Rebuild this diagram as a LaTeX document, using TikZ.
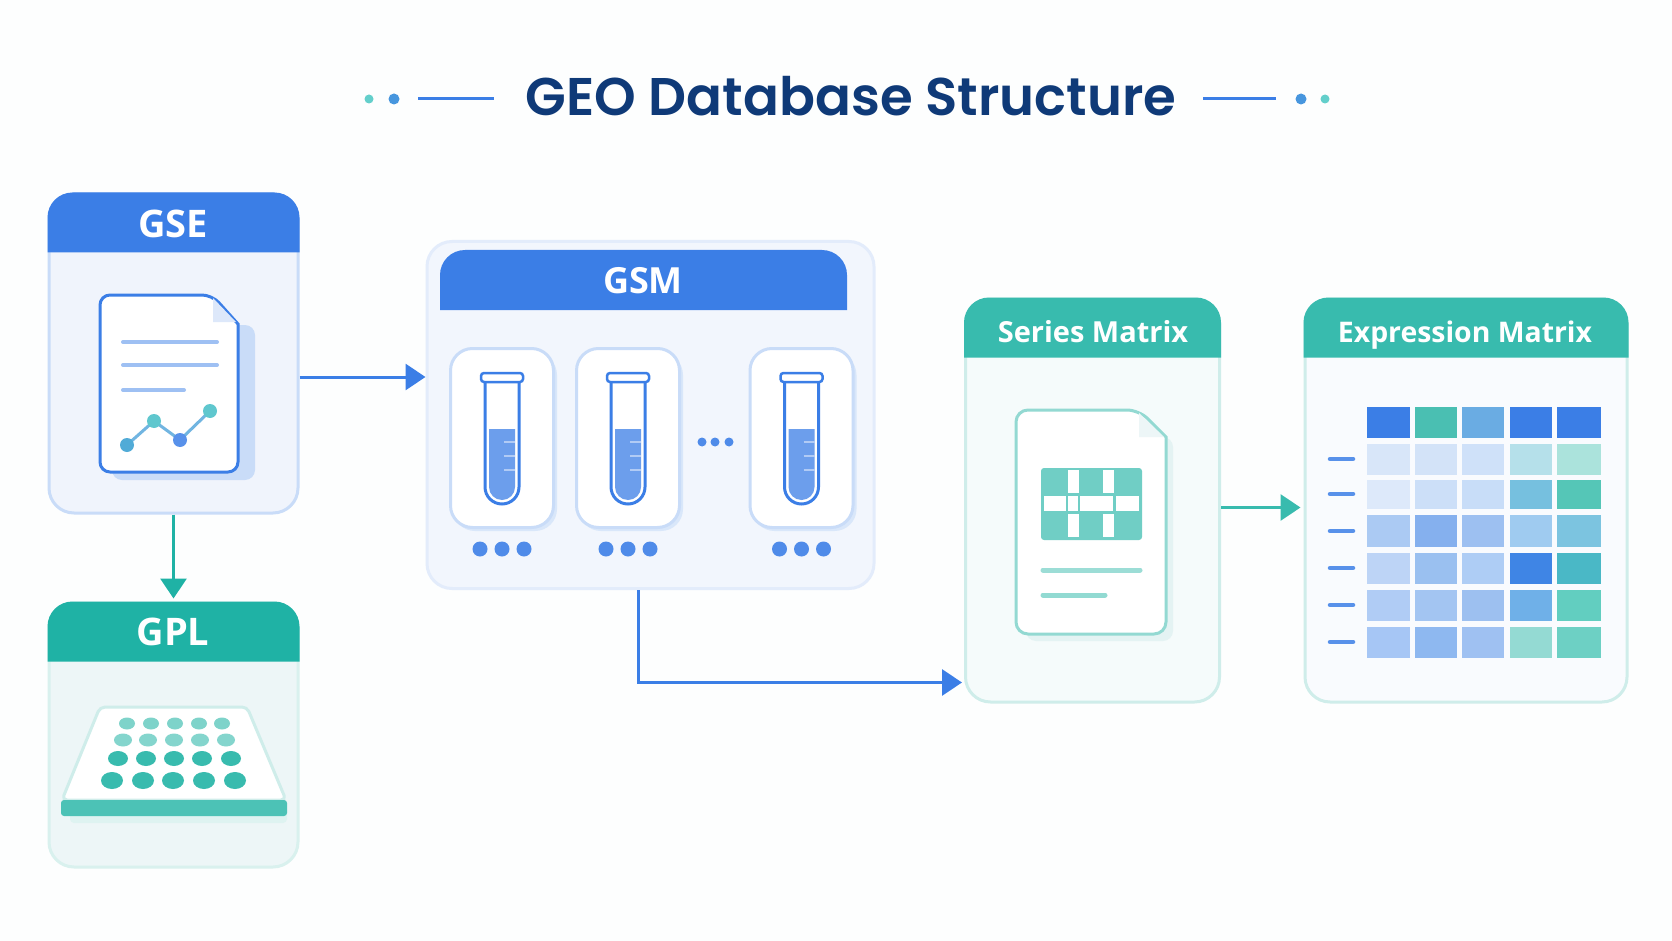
\documentclass[tikz,border=0pt]{standalone}
\usepackage{fontspec}
\setmainfont{Open Sans}
\newfontfamily\titlefont[BoldFont={Poppins SemiBold}]{Poppins}
\usetikzlibrary{arrows.meta,positioning}
\definecolor{pagebg}{HTML}{FDFEFE}
\definecolor{navy}{HTML}{0F3A78}
\definecolor{bluehead}{HTML}{3B7EE6}
\definecolor{tealhead}{HTML}{1FB2A5}
\definecolor{tealsoft}{HTML}{38BBAE}
\definecolor{tealdot}{HTML}{63CFCB}
\definecolor{palered}{HTML}{C9DCF8}
\definecolor{paleteal}{HTML}{CFEDEA}
\definecolor{gsefill}{HTML}{F0F4FC}
\definecolor{gplfill}{HTML}{EDF6F7}
\definecolor{gsmfill}{HTML}{F2F6FD}
\definecolor{seriesfill}{HTML}{F5FBFB}
\definecolor{exprfill}{HTML}{F9FBFE}
\tikzset{
  card/.style={draw,line width=3pt,rounded corners=25pt,inner sep=0pt},
  headlabel/.style={text=white,font=\bfseries\fontsize{38}{42}\selectfont,inner sep=0pt},
  headlabelsm/.style={text=white,font=\bfseries\fontsize{29}{34}\selectfont,inner sep=0pt,anchor=base},
  samplecard/.style={draw=palered,fill=white,line width=3pt,rounded corners=22pt,minimum width=103pt,minimum height=179pt},
  bluearrow/.style={->,draw=bluehead,line width=3pt},
  tealarrow/.style={->,draw=tealsoft,line width=3pt},
}
\newcommand{\cardhead}[3]{\fill[#2] ([yshift=-#3pt]#1.north west) [rounded corners=25pt] -- (#1.north west) -- (#1.north east) [sharp corners] -- ([yshift=-#3pt]#1.north east) -- cycle;}
\begin{document}
\begin{tikzpicture}[x=1pt,y=-1pt,>={Triangle[length=20pt,width=26pt]}]
  \useasboundingbox[fill=pagebg] (0,0) rectangle (1672,941);
  % title
  \node[text=navy,font=\titlefont\bfseries\fontsize{53}{60}\selectfont,inner sep=0pt] (title) at (851,96) {GEO Database Structure};
  \fill[tealdot] (369,99) circle (4.5);
  \fill[bluehead!70!tealdot] (394,99) circle (5.5);
  \fill[bluehead] (418,97.5) rectangle (494,100.5);
  \fill[bluehead] (1203,97.5) rectangle (1276,100.5);
  \fill[bluehead!70!tealdot] (1301,99) circle (5.5);
  \fill[tealdot] (1325,99) circle (4.5);
  % cards
  \node[card,draw=palered,fill=gsefill,minimum width=249pt,minimum height=319pt] (gse) at (173.5,353.5) {};
  \node[card,draw=paleteal!80!white,fill=gplfill,minimum width=249pt,minimum height=264pt] (gpl) at (173.5,735) {};
  \node[card,draw=gsmfill!92!bluehead,fill=gsmfill,minimum width=447pt,minimum height=347pt] (gsm) at (650.5,415) {};
  \node[card,draw=paleteal,fill=seriesfill,minimum width=254pt,minimum height=403pt] (series) at (1092.5,500.5) {};
  \node[card,draw=paleteal,fill=exprfill,minimum width=322pt,minimum height=403pt] (expr) at (1466,500.5) {};
  \cardhead{gse}{bluehead}{60}
  \cardhead{gpl}{tealhead}{60}
  \cardhead{series}{tealsoft}{60}
  \cardhead{expr}{tealsoft}{60}
  \fill[bluehead] (440,310) [rounded corners=25pt] -- (440,250) -- (847,250) [sharp corners] -- (847,310) -- cycle;
  \node[headlabel] (gselabel) at (173,224) {GSE};
  \node[headlabel] (gpllabel) at (173,632) {GPL};
  \node[headlabel,font=\bfseries\fontsize{36}{40}\selectfont] (gsmlabel) at (643,281) {GSM};
  \node[headlabelsm] (serieslabel) at (1093,342) {Series Matrix};
  \node[headlabelsm,font=\bfseries\fontsize{28.4}{34}\selectfont] (exprlabel) at (1465,342) {Expression Matrix};
  % gse document
  \fill[palered,rounded corners=10pt] (112,325) rectangle (255,480);
  \draw[bluehead,fill=white,line width=3pt] (100,400) [rounded corners=10pt] -- (100,295) -- (212,295) [sharp corners] -- (238,324) [rounded corners=10pt] -- (238,472) -- (100,472) -- cycle;
  \fill[gsefill!50!palered] (213,298) -- (236,322) -- (213,322) -- cycle;
  \foreach \y/\xend in {342/217,365/217,390/184}
    \draw[palered!70!bluehead,line width=4pt,line cap=round] (123,\y) -- (\xend,\y);
  \draw[bluehead!55!tealdot!80!white,line width=3pt] (127,445) -- (154,421) -- (180,440) -- (210,411);
  \fill[bluehead!45!tealdot] (127,445) circle (7);
  \fill[tealdot!90!bluehead] (154,421) circle (7);
  \fill[bluehead!85!white] (180,440) circle (7);
  \fill[tealdot!90!bluehead] (210,411) circle (7);
  % gpl plate
  \fill[gplfill!80!tealsoft!60!white,rounded corners=4pt] (70,807) rectangle (287,823);
  \draw[paleteal,fill=white,line width=3pt,rounded corners=5pt] (100,707) -- (247,707) -- (286,800) -- (62,800) -- cycle;
  \fill[tealsoft!90!white,rounded corners=3pt] (61,800) rectangle (287,816);
  \foreach \x in {127,151,175,199,222} \fill[tealsoft!65!white] (\x,723.5) ellipse (8 and 6);
  \foreach \x in {123,148,174,200,226} \fill[tealsoft!62!white] (\x,740) ellipse (9 and 6.5);
  \foreach \x in {118,146,174,202,231} \fill[tealsoft] (\x,758.5) ellipse (10 and 7.5);
  \foreach \x in {112,143,173,204,235} \fill[tealsoft] (\x,780.5) ellipse (11 and 8.5);
  % gsm samples
  \foreach \x/\nm in {502/a,628/b,801.5/c}{
    \fill[palered!70!white,rounded corners=22pt] (\x-49,353) rectangle (\x+55,531);
    \node[samplecard] (sample\nm) at (\x,438) {};
    \fill[bluehead!75!white] (\x-13,429) [rounded corners=13pt] -- (\x-13,500) -- (\x+13,500) [sharp corners] -- (\x+13,429) -- cycle;
    \foreach \y in {442,456,470}
      \draw[white!60!bluehead,line width=2pt] (\x+2,\y) -- (\x+13,\y);
    \draw[bluehead,line width=3pt] (\x-17,380) [rounded corners=17pt] -- (\x-17,504) -- (\x+17,504) [sharp corners] -- (\x+17,380);
    \draw[bluehead,fill=white,line width=2.5pt,rounded corners=3pt] (\x-21,373) rectangle (\x+21,382);
    \foreach \d in {-22,0,22}
      \fill[bluehead!90!white] (\x+\d,549) circle (7.5);
  }
  \foreach \x in {702,715,729} \fill[bluehead!90!white] (\x,442) circle (4.5);
  % series document
  \fill[gplfill!70!paleteal,rounded corners=10pt] (1026,437) rectangle (1173,641);
  \draw[paleteal!60!tealsoft,fill=white,line width=3pt] (1016,500) [rounded corners=12pt] -- (1016,410) -- (1139,410) [sharp corners] -- (1166,437) [rounded corners=12pt] -- (1166,634) -- (1016,634) -- cycle;
  \fill[gplfill] (1139,413) -- (1164,437) -- (1139,437) -- cycle;
  \fill[tealsoft!72!white,rounded corners=3pt] (1041,468) rectangle (1142,540);
  \foreach \xa/\xb in {1068/1078.5,1103/1114}{
    \fill[white] (\xa,470) rectangle (\xb,493);
    \fill[white] (\xa,514) rectangle (\xb,537);
  }
  \foreach \xa/\xb in {1044/1066,1068/1078,1080/1113,1116/1139}
    \fill[white] (\xa,496) rectangle (\xb,511);
  \draw[tealsoft!50!white,line width=5pt,line cap=round] (1043,570) -- (1140,570);
  \draw[tealsoft!55!white,line width=5pt,line cap=round] (1043,595) -- (1105,595);
  % expression table
  \foreach \ya/\yb/\hexa/\hexb/\hexc/\hexd/\hexe in {
    407/438/3B7EE6/4ABFB2/6AACE3/3B7EE6/3B7EE6,
    444/475/D8E6F9/D3E3F8/CFE1F9/B5E0EA/ABE3DC,
    480/509/DDE9FA/CCDFF8/C8DDF8/76C0DF/55C6B7,
    515/547/ABCAF3/85B0EE/9DC0F1/9FCBF0/7CC4E0,
    553/584/BDD4F6/9AC0F0/AECDF5/3F85E5/4AB8C6,
    590/621/B0CCF5/A3C5F2/9DC0F0/6FB0E8/62CEC0,
    627/658/A6C6F5/8EB8F0/9FC1F2/94DAD3/6DD0C4}{
    \foreach \xa/\xb/\hex in {1367/1409.5/\hexa,1415/1457/\hexb,1462/1504/\hexc,1510/1552/\hexd,1557/1600.5/\hexe}{
      \definecolor{cellcol}{HTML}{\hex}
      \fill[cellcol] (\xa,\ya) rectangle (\xb,\yb);
    }
  }
  \foreach \y in {459,494,531,568,605,642}
    \draw[bluehead!85!white,line width=4.5pt,line cap=round] (1330,\y) -- (1353,\y);
  % connectors
  \draw[bluearrow] ([yshift=-23.5pt]gse.east) -- ([yshift=38pt]gsm.west);
  \draw[tealarrow,draw=tealhead] (gse.south) -- ([yshift=3pt]gpl.north);
  \draw[bluearrow] ([xshift=-12.5pt]gsm.south) |- ([xshift=-2pt,yshift=-182pt]series.west);
  \draw[tealarrow] ([yshift=-7pt]series.east) -- ([xshift=-3pt,yshift=-7pt]expr.west);
\end{tikzpicture}
\end{document}
